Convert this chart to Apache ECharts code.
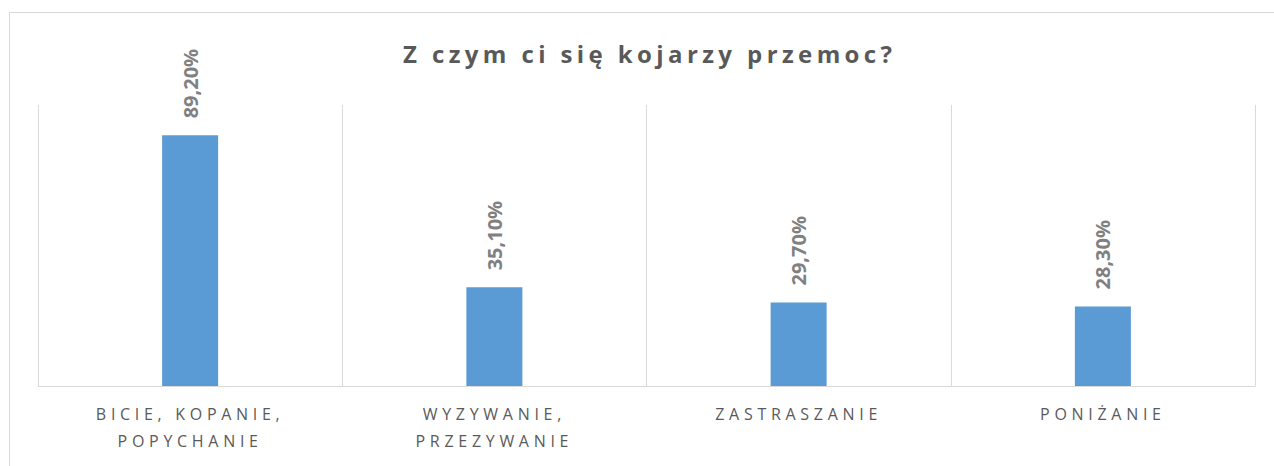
<!DOCTYPE html>
<html>
<head>
<meta charset="utf-8">
<script src="https://cdn.jsdelivr.net/npm/echarts@6/dist/echarts.min.js"></script>
<style>
  html, body { margin: 0; padding: 0; background: #fff; }
  #main { width: 1274px; height: 466px; }
  /* title and category labels are letter-spaced like the original */
  #main text[fill="#595959"] { letter-spacing: 4.4px; }
  #main text[fill="#5a5a5a"] { letter-spacing: 4.7px; }
</style>
</head>
<body>
<div id="main"></div>
<script>
var categories = ['BICIE, KOPANIE,\nPOPYCHANIE', 'WYZYWANIE,\nPRZEZYWANIE', 'ZASTRASZANIE', 'PONIŻANIE'];
var values = [89.2, 35.1, 29.7, 28.3];
var titleText = 'Z czym ci się kojarzy przemoc?';

var chartDom = document.getElementById('main');
var myChart = echarts.init(chartDom, null, {
    renderer: 'svg'
});
var option;
option = {
    animation: false,
    title: {
        text: titleText,
        left: 398,
        top: 36,
        textStyle: {
            fontFamily: 'Open Sans',
            fontSize: 24,
            fontWeight: 'bold',
            color: '#595959'
        }
    },
    graphic: [
        {
            type: 'rect',
            shape: { x: 9.5, y: 12.5, width: 1300, height: 500 },
            style: { fill: 'none', stroke: '#d9d9d9', lineWidth: 1 },
            silent: true
        }
    ],
    grid: {
        left: 38,
        right: 19,
        top: 105,
        bottom: 80
    },
    xAxis: {
        type: 'category',
        data: categories,
        axisLine: { lineStyle: { color: '#d9d9d9' } },
        axisTick: { show: false },
        splitLine: { show: true, lineStyle: { color: '#d9d9d9' } },
        axisLabel: {
            margin: 14,
            fontFamily: 'Open Sans',
            fontSize: 16,
            lineHeight: 27,
            color: '#5a5a5a'
        }
    },
    yAxis: {
        type: 'value',
        min: 0,
        max: 100,
        show: false
    },
    series: [
        {
            type: 'bar',
            data: values,
            barWidth: 56,
            itemStyle: { color: '#5b9bd5' },
            label: {
                show: true,
                position: 'top',
                rotate: 90,
                align: 'left',
                verticalAlign: 'middle',
                distance: 17,
                fontFamily: 'Open Sans',
                fontSize: 20,
                fontWeight: 'bold',
                color: '#808080',
                formatter: function (p) {
                    return p.value.toFixed(2).replace('.', ',') + '%';
                }
            }
        }
    ]
};
option && myChart.setOption(option);
</script>
</body>
</html>
